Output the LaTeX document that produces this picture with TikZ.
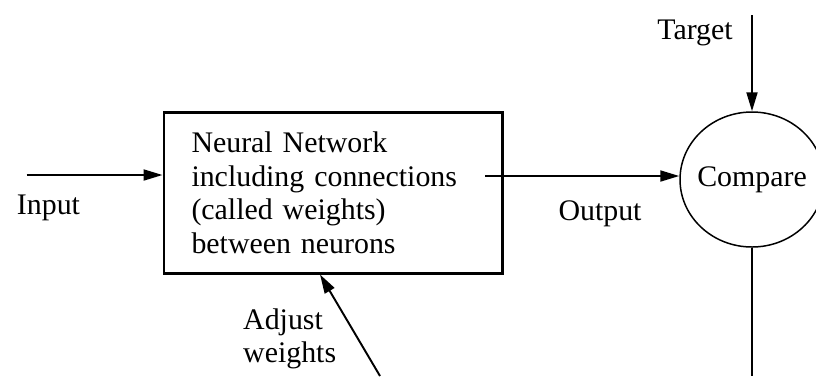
\documentclass[tikz,border=0pt]{standalone}
\usepackage{fontspec}
\setmainfont{Liberation Serif}
\usepackage{tikz}
\usetikzlibrary{calc, positioning, arrows.meta, shapes.geometric}

\begin{document}
\begin{tikzpicture}[>={Triangle[length=0.38cm, width=0.22cm]}, font=\fontsize{17}{19}\selectfont]
  \useasboundingbox (0,0) rectangle (16.32,7.52);
  \tikzset{
    flow/.style={->, line width=1.1pt},
    netbox/.style={draw, line width=1.7pt, align=left, text width=5.66cm,
      inner xsep=0.55cm, minimum height=3.21cm}
  }

  % Network box
  \node[netbox] (net) at (6.66, 3.665)
    {Neural Network\\ including connections\\ (called weights)\\ between neurons};

  % Compare
  \node[draw, ellipse, line width=0.85pt, inner sep=0pt,
        minimum width=2.88cm, minimum height=2.7cm,
        label=center:Compare] (cmp) at (15.04, 3.93) {};

  % Input
  \coordinate (inA) at (0.53, 4.02);
  \draw[flow] (inA) -- (inA -| net.west);
  \node (inLbl) at (0.97, 3.354) {Input};

  % Output
  \coordinate (outA) at (9.7, 4.0);
  \draw[flow] (outA) -- (outA -| cmp.west);
  \node (outLbl) at (12.0, 3.254) {Output};

  % Target
  \coordinate (tgtA) at (15.04, 7.22);
  \draw[flow] (tgtA) -- (cmp.north);
  \node (tgtLbl) at (13.9, 6.86) {Target};

  % Back to the network
  \coordinate (foot) at (15.04, 0);
  \draw[line width=1.1pt] (cmp.south) -- (foot);

  \coordinate (adjA) at (7.6, 0);
  \draw[flow] (adjA) -- ([xshift=-0.26cm]net.south);
  \node[align=left, anchor=west] (adjLbl) at (4.74, 0.74) {Adjust\\ weights};
\end{tikzpicture}
\end{document}
